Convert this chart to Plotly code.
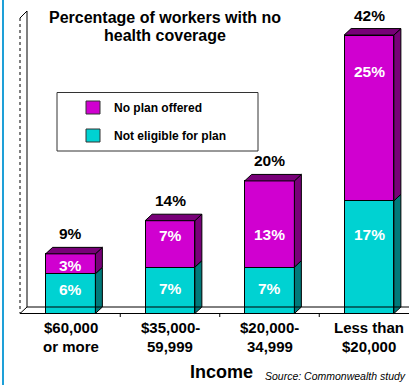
import plotly.graph_objects as go

# ---------------- data ----------------
tick_line1 = ["$60,000", "$35,000-", "$20,000-", "Less than"]
tick_line2 = ["or more", "59,999", "34,999", "$20,000"]
not_eligible = [6, 7, 7, 17]      # bottom segment (cyan)
no_plan = [3, 7, 13, 25]          # top segment (magenta)
totals = [9, 14, 20, 42]
series_names = ["No plan offered", "Not eligible for plan"]
title_lines = ["Percentage of workers with no", "health coverage"]
x_title = "Income"
source_text = "Source: Commonwealth study"

# ---------------- layout constants ----------------
W, H = 409, 385
FONT = "Liberation Sans, Arial, sans-serif"
MAG, MAG_D = "#D000D0", "#780078"
CYA, CYA_D = "#00D2D2", "#007A7A"
xs = list(range(len(totals)))
BAR_W = 0.5
X_RANGE = [-0.7085, 3.402]
Y_RANGE = [-10.78, 47.29]
px_per_x = W / (X_RANGE[1] - X_RANGE[0])
px_per_y = H / (Y_RANGE[1] - Y_RANGE[0])
DX = 7 / px_per_x
DY = 6.5 / px_per_y
# label placement inside segments (fraction of segment from its bottom)
cyan_label_frac = [0.6, 0.53, 0.53, 0.70]
mag_label_frac = [0.4, 0.68, 0.38, 0.78]


def px(x):
    return x / W


def py(y):
    return 1 - y / H


fig = go.Figure()

# front faces
fig.add_trace(go.Bar(x=xs, y=not_eligible, width=BAR_W, name=series_names[1],
                     marker=dict(color=CYA, line=dict(color="black", width=1))))
fig.add_trace(go.Bar(x=xs, y=no_plan, width=BAR_W, name=series_names[0],
                     marker=dict(color=MAG, line=dict(color="black", width=1))))

# side & top faces (3D depth) built from the same values
def poly_trace(xl, yl, color):
    return go.Scatter(x=xl, y=yl, mode="lines", fill="toself", fillcolor=color,
                      line=dict(color="black", width=1), hoverinfo="skip",
                      showlegend=False)

for i in xs:
    r = i + BAR_W / 2
    l = i - BAR_W / 2
    segs = [(0, not_eligible[i], CYA_D), (not_eligible[i], totals[i], MAG_D)]
    for y0, y1, c in segs:
        fig.add_trace(poly_trace([r, r + DX, r + DX, r, r],
                                 [y0, y0 + DY, y1 + DY, y1, y0], c))
    t = totals[i]
    fig.add_trace(poly_trace([l, r, r + DX, l + DX, l],
                             [t, t, t + DY, t + DY, t], MAG_D))

shapes = []
# blue frame line on the left
shapes.append(dict(type="line", xref="paper", yref="paper", x0=px(3), x1=px(3),
                   y0=0, y1=1, line=dict(color="#1EA0D8", width=2)))
# wall
shapes.append(dict(type="path", xref="paper", yref="paper",
                   path=f"M {px(20)},{py(313.5)} L {px(20)},{py(18)} L {px(27)},{py(11)} "
                        f"L {px(27)},{py(307)} Z",
                   fillcolor="white", line=dict(width=0), layer="below"))
shapes.append(dict(type="line", xref="paper", yref="paper", x0=px(20), x1=px(20),
                   y0=py(18), y1=py(313.5), line=dict(color="black", width=1, dash="dot")))
shapes.append(dict(type="line", xref="paper", yref="paper", x0=px(27), x1=px(27),
                   y0=py(11), y1=py(307), line=dict(color="black", width=1)))
shapes.append(dict(type="line", xref="paper", yref="paper", x0=px(20), x1=px(27),
                   y0=py(18), y1=py(11), line=dict(color="black", width=1)))
# floor
shapes.append(dict(type="line", xref="paper", yref="paper", x0=px(20), x1=1,
                   y0=py(313.5), y1=py(313.5), line=dict(color="black", width=1)))
shapes.append(dict(type="line", xref="paper", yref="paper", x0=px(27), x1=1,
                   y0=py(307), y1=py(307), line=dict(color="black", width=1)))
shapes.append(dict(type="line", xref="paper", yref="paper", x0=px(20), x1=px(27),
                   y0=py(313.5), y1=py(307), line=dict(color="black", width=1)))
# category separator ticks
for i in xs[:-1]:
    shapes.append(dict(type="line", xref="x", yref="paper", x0=i + 0.5, x1=i + 0.5,
                       y0=py(313.5), y1=py(317), line=dict(color="black", width=1)))
# legend box
shapes.append(dict(type="rect", xref="paper", yref="paper", x0=px(57), x1=px(258),
                   y0=py(151), y1=py(92.5), fillcolor="white",
                   line=dict(color="#333333", width=1)))
shapes.append(dict(type="rect", xref="paper", yref="paper", x0=px(86), x1=px(100),
                   y0=py(114), y1=py(101), fillcolor=MAG,
                   line=dict(color="#333333", width=1)))
shapes.append(dict(type="rect", xref="paper", yref="paper", x0=px(86), x1=px(100),
                   y0=py(142), y1=py(129), fillcolor=CYA,
                   line=dict(color="#333333", width=1)))

ann = []
bold = lambda s, c="black": dict(family=FONT, size=s, color=c)
for k, line in enumerate(title_lines):
    ann.append(dict(text=f"<b>{line}</b>", xref="paper", yref="paper",
                    x=px(165), y=py(17 + 18 * k), xanchor="center", yanchor="middle",
                    showarrow=False, font=bold(16)))
for k, name in enumerate(series_names):
    ann.append(dict(text=f"<b>{name}</b>", xref="paper", yref="paper",
                    x=px(112), y=py(107.5 + 28 * k), xanchor="left", yanchor="middle",
                    showarrow=False, font=bold(12)))
for i in xs:
    ann.append(dict(text=f"<b>{totals[i]}%</b>", x=i, y=totals[i], yshift=20,
                    xanchor="center", yanchor="middle", showarrow=False, font=bold(15.5)))
    ann.append(dict(text=f"<b>{not_eligible[i]}%</b>", x=i,
                    y=not_eligible[i] * cyan_label_frac[i],
                    xanchor="center", yanchor="middle", showarrow=False,
                    font=bold(15.5, "white")))
    ann.append(dict(text=f"<b>{no_plan[i]}%</b>", x=i,
                    y=not_eligible[i] + no_plan[i] * mag_label_frac[i],
                    xanchor="center", yanchor="middle", showarrow=False,
                    font=bold(15.5, "white")))
    ann.append(dict(text=f"<b>{tick_line1[i]}</b>", x=i, yref="paper", y=py(327),
                    xanchor="center", yanchor="middle", showarrow=False, font=bold(15)))
    ann.append(dict(text=f"<b>{tick_line2[i]}</b>", x=i, yref="paper", y=py(346),
                    xanchor="center", yanchor="middle", showarrow=False, font=bold(15)))
ann.append(dict(text=f"<b>{x_title}</b>", xref="paper", yref="paper", x=px(222),
                y=py(372), xanchor="center", yanchor="middle", showarrow=False,
                font=bold(18)))
ann.append(dict(text=f"<i>{source_text}</i>", xref="paper", yref="paper", x=px(408),
                y=py(376), xanchor="right", yanchor="middle", showarrow=False,
                font=dict(family=FONT, size=10.5, color="black")))

fig.update_layout(
    width=W, height=H, margin=dict(l=0, r=0, t=0, b=0),
    barmode="stack", showlegend=False,
    paper_bgcolor="white", plot_bgcolor="white",
    xaxis=dict(range=X_RANGE, visible=False, fixedrange=True),
    yaxis=dict(range=Y_RANGE, visible=False, fixedrange=True),
    shapes=shapes, annotations=ann,
)

fig.write_html("out.html")
